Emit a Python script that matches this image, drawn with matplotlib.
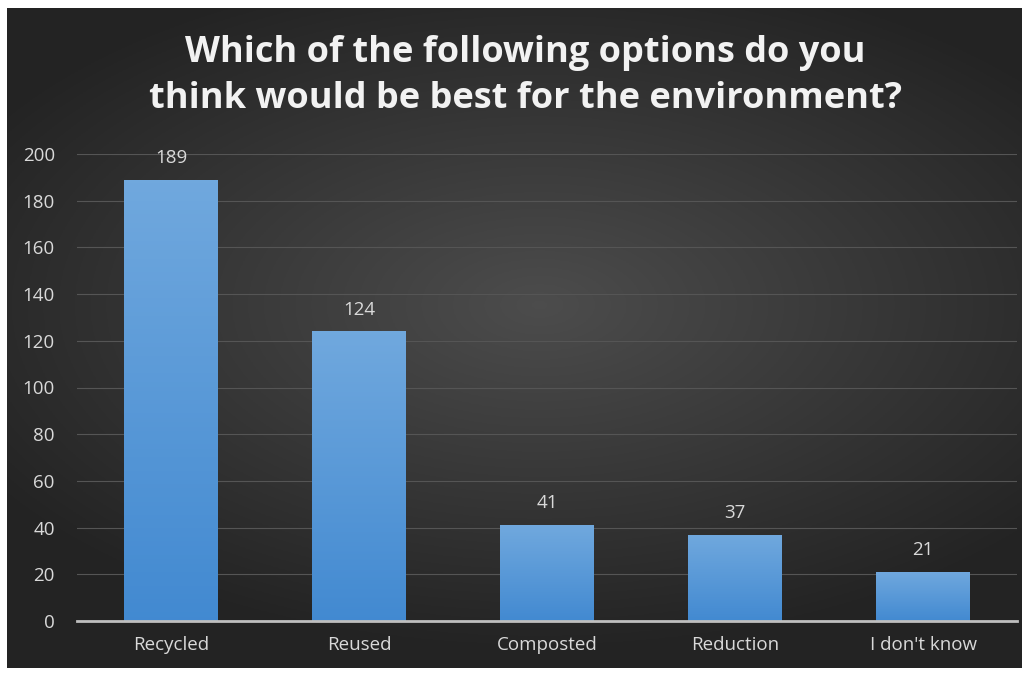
import numpy as np
import matplotlib
matplotlib.use('Agg')
from matplotlib import pyplot as plt

categories = ['Recycled', 'Reused', 'Composted', 'Reduction', "I don't know"]
counts = [189, 124, 41, 37, 21]
yticks = [0, 20, 40, 60, 80, 100, 120, 140, 160, 180, 200]
title = 'Which of the following options do you\nthink would be best for the environment?'

plt.rcParams['font.family'] = ['Open Sans', 'DejaVu Sans']

fig = plt.figure(figsize=(10.3, 6.73), dpi=100)
fig.patch.set_facecolor('white')

# dark panel with radial gradient
bg = fig.add_axes([7/1030, 5/673, 1015/1030, 660/673])
yy, xx = np.mgrid[-1:1:300j, -1:1:400j]
r = np.sqrt(((xx - 0.05) * 0.9) ** 2 + ((yy + 0.1) * 1.1) ** 2)
shade = np.clip(0.30 - 0.14 * r, 0.14, 0.30)
bg.imshow(np.dstack([shade, shade, shade]), aspect='auto', extent=[0, 1, 0, 1])
bg.set_axis_off()

ax = fig.add_axes([77/1030, 52/673, 940/1030, 467/673])
ax.patch.set_alpha(0)
x = np.arange(len(categories))
bars = ax.bar(x, counts, width=0.5, color='#5b9bd5', zorder=3)

# gradient fill on the bars
grad = np.linspace(0, 1, 100).reshape(-1, 1)
top = np.array([0.44, 0.66, 0.87])
bot = np.array([0.26, 0.54, 0.82])
img = bot + (top - bot) * grad
for b in bars:
    im = ax.imshow(img[:, None, :].repeat(2, axis=1), origin='lower', aspect='auto',
                   extent=[b.get_x(), b.get_x() + b.get_width(), 0, b.get_height()], zorder=3)
    im.set_clip_path(b)

for xi, v in zip(x, counts):
    ax.text(xi, v + 5.5, str(v), ha='center', va='bottom', color='#d9d9d9', fontsize=13.5)

ax.set_xlim(-0.5, 4.5)
ax.set_ylim(0, 200)
ax.set_yticks(yticks)
ax.set_xticks(x)
ax.set_xticklabels(categories)
ax.tick_params(axis='both', length=0, colors='#d9d9d9', labelsize=13.5)
ax.tick_params(axis='y', pad=16)
ax.tick_params(axis='x', pad=11)
ax.grid(axis='y', color='#555555', linewidth=0.8, zorder=0)
for s in ['top', 'right', 'left']:
    ax.spines[s].set_visible(False)
ax.spines['bottom'].set_color('#bfbfbf')
ax.spines['bottom'].set_linewidth(2)
ax.spines['bottom'].set_zorder(4)

fig.text(0.51, 0.887, title, ha='center', va='center', color='#f2f2f2',
         fontsize=26, fontweight='bold', linespacing=1.36)

fig.savefig('out.png', dpi=100, facecolor='white')
